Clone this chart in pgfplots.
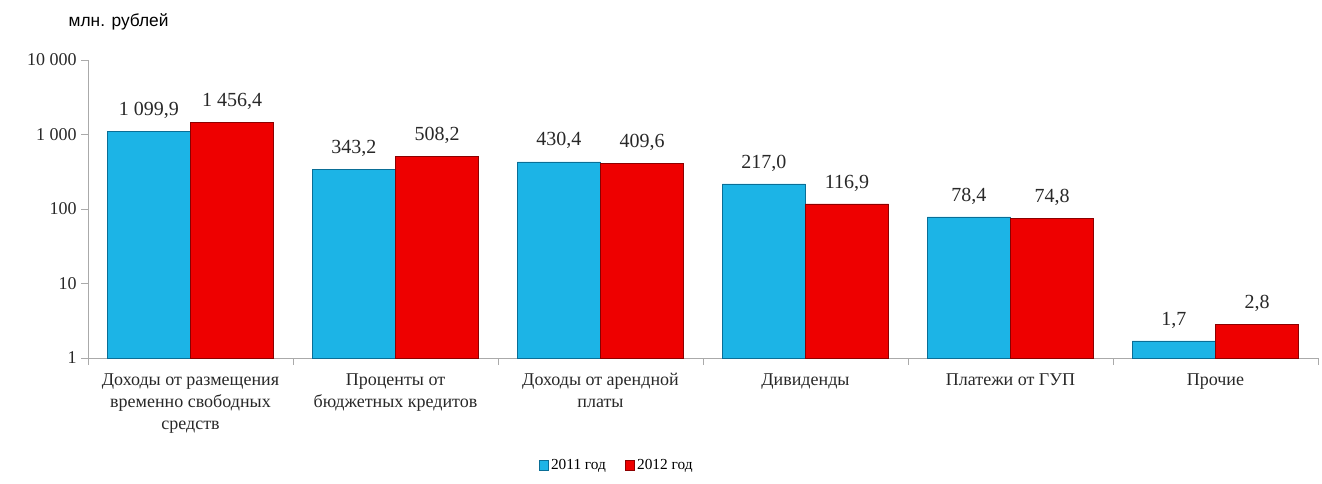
\documentclass[border=0pt]{standalone}
\usepackage{pgfplots}
\pgfplotsset{compat=1.18}
\usepackage{fontspec}
\setmainfont{Liberation Serif}
\newfontfamily\sansf{Liberation Sans}
\definecolor{cblue}{RGB}{28,180,230}
\definecolor{cbluedark}{RGB}{10,110,150}
\definecolor{cred}{RGB}{238,0,0}
\definecolor{creddark}{RGB}{140,0,0}
\definecolor{axgray}{RGB}{170,170,170}
\definecolor{txt}{RGB}{40,40,40}
\begin{document}
\begin{tikzpicture}
\begin{semilogyaxis}[
  at={(0,0)}, anchor=south west,
  scale only axis,
  width=922.5pt, height=223.5pt,
  xmin=-0.5, xmax=5.5,
  ymin=1, ymax=10000,
  axis x line=bottom, axis y line=left,
  axis line style={axgray,-},
  ybar=0pt, bar width=0.405,
  xtick={-0.5,0.5,1.5,2.5,3.5,4.5,5.5},
  x tick label as interval,
  xticklabels={{Доходы от размещения\\временно свободных\\средств},{Проценты от\\бюджетных кредитов},{Доходы от арендной\\платы},{Дивиденды},{Платежи от ГУП},{Прочие}},
  xticklabel style={align=center, font=\fontsize{13.5}{16.5}\selectfont, text=txt, yshift=-3pt},
  ytick={1,10,100,1000,10000},
  yticklabels={1,10,100,1\ 000,10\ 000},
  yticklabel style={font=\fontsize{13.5}{14}\selectfont, text=txt},
  tick style={draw=axgray}, tick align=outside, major tick length=5pt,
  minor ytick={}, yminorticks=false,
  /pgf/number format/assume math mode=true,
  point meta=explicit symbolic,
  nodes near coords,
  nodes near coords style={font=\fontsize{15}{16}\selectfont, text=txt, anchor=south, yshift=6pt},
  legend columns=2,
  legend style={at={(0.43,-0.36)}, anchor=center, draw=none, font=\fontsize{11.5}{12}\selectfont,
    /tikz/every even column/.append style={column sep=12pt}},
  legend image code/.code={\fill[#1] (0pt,-3.5pt) rectangle (7pt,3.5pt);},
  clip=false,
]
\addplot[fill=cblue, draw=cbluedark] coordinates {
  (0,1099.9) [1\ 099,9]
  (1,343.2) [343,2]
  (2,430.4) [430,4]
  (3,217.0) [217,0]
  (4,78.4) [78,4]
  (5,1.7) [1,7]
};
\addplot[fill=cred, draw=creddark] coordinates {
  (0,1456.4) [1\ 456,4]
  (1,508.2) [508,2]
  (2,409.6) [409,6]
  (3,116.9) [116,9]
  (4,74.8) [74,8]
  (5,2.8) [2,8]
};
\legend{2011 год, 2012 год}
\end{semilogyaxis}
\node[anchor=west, font=\sansf\fontsize{13}{14}\selectfont] at (-18pt,252pt) {млн. рублей};
\path[use as bounding box] (-66pt,-94.5pt) rectangle (925.5pt,268.5pt);
\end{tikzpicture}
\end{document}
